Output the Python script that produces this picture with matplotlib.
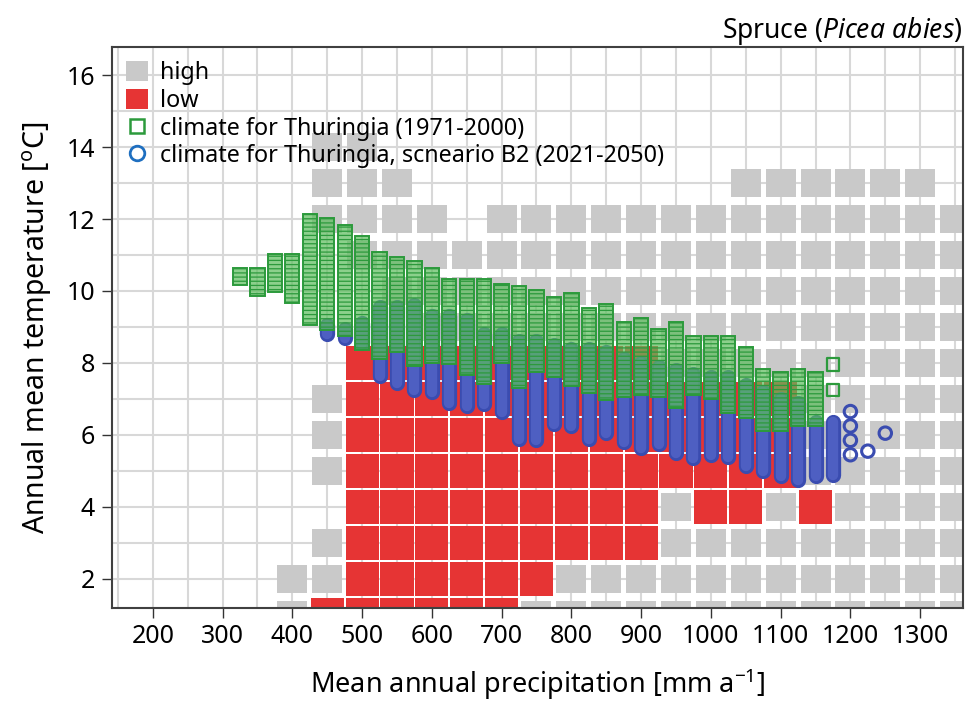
import matplotlib.pyplot as plt
from matplotlib.patches import Patch
from matplotlib.lines import Line2D

# suitability grid: cell centres (precipitation in mm, temperature in degC)
grid_prec = [150, 200, 250, 300, 350, 400, 450, 500, 550, 600, 650, 700, 750,
             800, 850, 900, 950, 1000, 1050, 1100, 1150, 1200, 1250, 1300, 1350]
grid_temp = [16, 15, 14, 13, 12, 11, 10, 9, 8, 7, 6, 5, 4, 3, 2, 1]
# h = high, l = low, . = no cell (one character per precipitation column)
grid_rows = [
    ".........................",
    ".........................",
    "......hh.................",
    "......hhh.........hhhhhh.",
    "......hhhh.hhhhhhhhhhhhhh",
    ".......hhhhhhhhhhhhhhhhhh",
    "........hhhhhhhhhhhhhhhhh",
    ".........hhhhhhhhhhhhhhhh",
    ".......lllllllllhhhhhhhhh",
    "......hlllllllllllllhhhhh",
    "......hlllllllllllllhhhhh",
    "......hlllllllllllllhhhhh",
    ".......lllllllllhllhlhhhh",
    "......hlllllllllhhhhhhhhh",
    ".....hhllllllhhhhhhhhhhhh",
    ".....hllllllhhhhhhhhhhhhh",
]

# climate for Thuringia 1971-2000 (range of temperatures per precipitation class)
green_prec = [325, 350, 375, 400, 425, 450, 475, 500, 525, 550, 575, 600, 625,
              650, 675, 700, 725, 750, 775, 800, 825, 850, 875, 900, 925, 950,
              975, 1000, 1025, 1050, 1075, 1100, 1125, 1150]
green_lo = [10.35, 10.05, 10.15, 9.85, 9.25, 9.1, 8.95, 8.55, 8.3, 8.5, 8.1, 8.2,
            8.15, 7.85, 7.6, 8.2, 7.5, 7.95, 7.8, 7.55, 7.35, 7.15, 7.25, 7.3,
            7.25, 6.95, 7.3, 7.2, 6.8, 6.65, 6.3, 6.3, 6.45, 6.45]
green_hi = [10.45, 10.45, 10.85, 10.85, 11.95, 11.85, 11.65, 11.35, 10.9, 10.75,
            10.65, 10.45, 10.15, 10.15, 10.15, 10.0, 9.95, 9.85, 9.65, 9.75, 9.35,
            9.45, 8.95, 9.05, 8.75, 8.95, 8.55, 8.55, 8.55, 8.25, 7.65, 7.55,
            7.65, 7.55]
green_pt_prec = [1175, 1175]
green_pt_temp = [7.25, 7.95]

# scenario B2 2021-2050
blue_prec = [450, 475, 500, 525, 550, 575, 600, 625, 650, 675, 700, 725, 750,
             775, 800, 825, 850, 875, 900, 925, 950, 975, 1000, 1025, 1050,
             1075, 1100, 1125, 1150, 1175]
blue_lo = [8.8, 8.7, 8.55, 7.65, 7.45, 7.25, 7.2, 6.9, 6.8, 6.85, 6.65, 5.9, 5.85,
           6.3, 6.25, 5.9, 6.05, 5.8, 5.65, 5.75, 5.5, 5.35, 5.45, 5.4, 5.15,
           5.0, 4.85, 4.75, 4.85, 4.9]
blue_hi = [9.05, 8.95, 9.1, 9.55, 9.55, 9.6, 9.3, 9.3, 9.2, 8.8, 8.8, 8.6, 8.6,
           8.5, 8.4, 8.4, 8.3, 8.1, 8.0, 7.9, 7.8, 7.7, 7.6, 7.6, 7.4, 7.2, 7.0,
           6.9, 6.35, 6.35]
blue_pt_prec = [1200, 1200, 1200, 1200, 1225, 1250]
blue_pt_temp = [5.45, 5.85, 6.25, 6.65, 5.55, 6.05]

GRAY = "#c9c9c9"
RED = "#e63434"
GREEN = "#2c9a3c"
BLUE = "#3a4cb0"
BLUE_FILL = "#4e5fc2"

plt.rcParams["font.family"] = ["Noto Sans", "DejaVu Sans"]
plt.rcParams["mathtext.fontset"] = "custom"
plt.rcParams["mathtext.it"] = "Noto Sans:italic"
plt.rcParams["mathtext.rm"] = "Noto Sans"
plt.rcParams["hatch.linewidth"] = 0.9

fig = plt.figure(figsize=(9.66, 7.02), dpi=100)
ax = fig.add_axes([0.1156, 0.1343, 0.881, 0.7983])

# light grid through the cell centres
for p in grid_prec:
    ax.axvline(p, color="#d8d8d8", lw=1.5, zorder=0)
for t in grid_temp:
    ax.axhline(t, color="#d8d8d8", lw=1.5, zorder=0)

# grid cells
for t, row in zip(grid_temp, grid_rows):
    hx = [p for p, c in zip(grid_prec, row) if c == "h"]
    lx = [p for p, c in zip(grid_prec, row) if c == "l"]
    ax.bar(hx, 0.8, bottom=t - 0.4, width=43, color=GRAY, zorder=1)
    ax.bar(lx, 0.94, bottom=t - 0.47, width=47.5, color=RED, zorder=1)

# scenario columns: stacked circles -> rounded bars
ax.vlines(blue_prec, blue_lo, blue_hi, lw=11, color=BLUE, capstyle="round", zorder=3)
ax.vlines(blue_prec, blue_lo, blue_hi, lw=7.5, color=BLUE_FILL, capstyle="round", zorder=3)
ax.scatter(blue_pt_prec, blue_pt_temp, s=80, facecolors="none", edgecolors=BLUE,
           linewidths=2.2, zorder=3)

# 1971-2000 columns: stacked squares -> hatched bars
heights = [h - l + 0.38 for l, h in zip(green_lo, green_hi)]
bottoms = [l - 0.19 for l in green_lo]
ax.bar(green_prec, heights, bottom=bottoms, width=20.5, facecolor=(0.36, 0.74, 0.36, 0.7),
       edgecolor=GREEN, hatch="----", lw=1.4, zorder=4)
ax.scatter(green_pt_prec, green_pt_temp, s=85, marker="s", facecolors="none",
           edgecolors=GREEN, linewidths=1.6, zorder=4)

ax.set_xlim(141, 1361)
ax.set_ylim(1.2, 16.77)
ax.set_xticks([200, 300, 400, 500, 600, 700, 800, 900, 1000, 1100, 1200, 1300])
ax.set_yticks([2, 4, 6, 8, 10, 12, 14, 16])
ax.tick_params(direction="out", length=7, width=1, labelsize=18, color="#333333", pad=5)
for s in ax.spines.values():
    s.set_color("#404040")
    s.set_linewidth(1.5)

ax.set_xlabel("Mean annual precipitation [mm a$^{\\mathrm{-1}}$]", fontsize=19.5, labelpad=12)
ax.set_ylabel("Annual mean temperature [$^{\\mathrm{o}}$C]", fontsize=20.5, labelpad=9)
ax.set_title("Spruce ($\\mathit{Picea\\ abies}$)", loc="right", fontsize=19, pad=3)

handles = [
    Patch(facecolor=GRAY, edgecolor="none"),
    Patch(facecolor=RED, edgecolor="none"),
    Line2D([], [], ls="none", marker="s", ms=9.5, mfc="none", mec=GREEN, mew=1.8),
    Line2D([], [], ls="none", marker="o", ms=10.5, mfc="none", mec="#1f6fc0", mew=2),
]
labels = ["high", "low", "climate for Thuringia (1971-2000)",
          "climate for Thuringia, scneario B2 (2021-2050)"]
ax.legend(handles, labels, loc="upper left", frameon=False, fontsize=16.8,
          handlelength=0.95, handleheight=0.95, handletextpad=0.5,
          labelspacing=0.15, borderaxespad=0.2)

fig.savefig("out.png", dpi=100)
